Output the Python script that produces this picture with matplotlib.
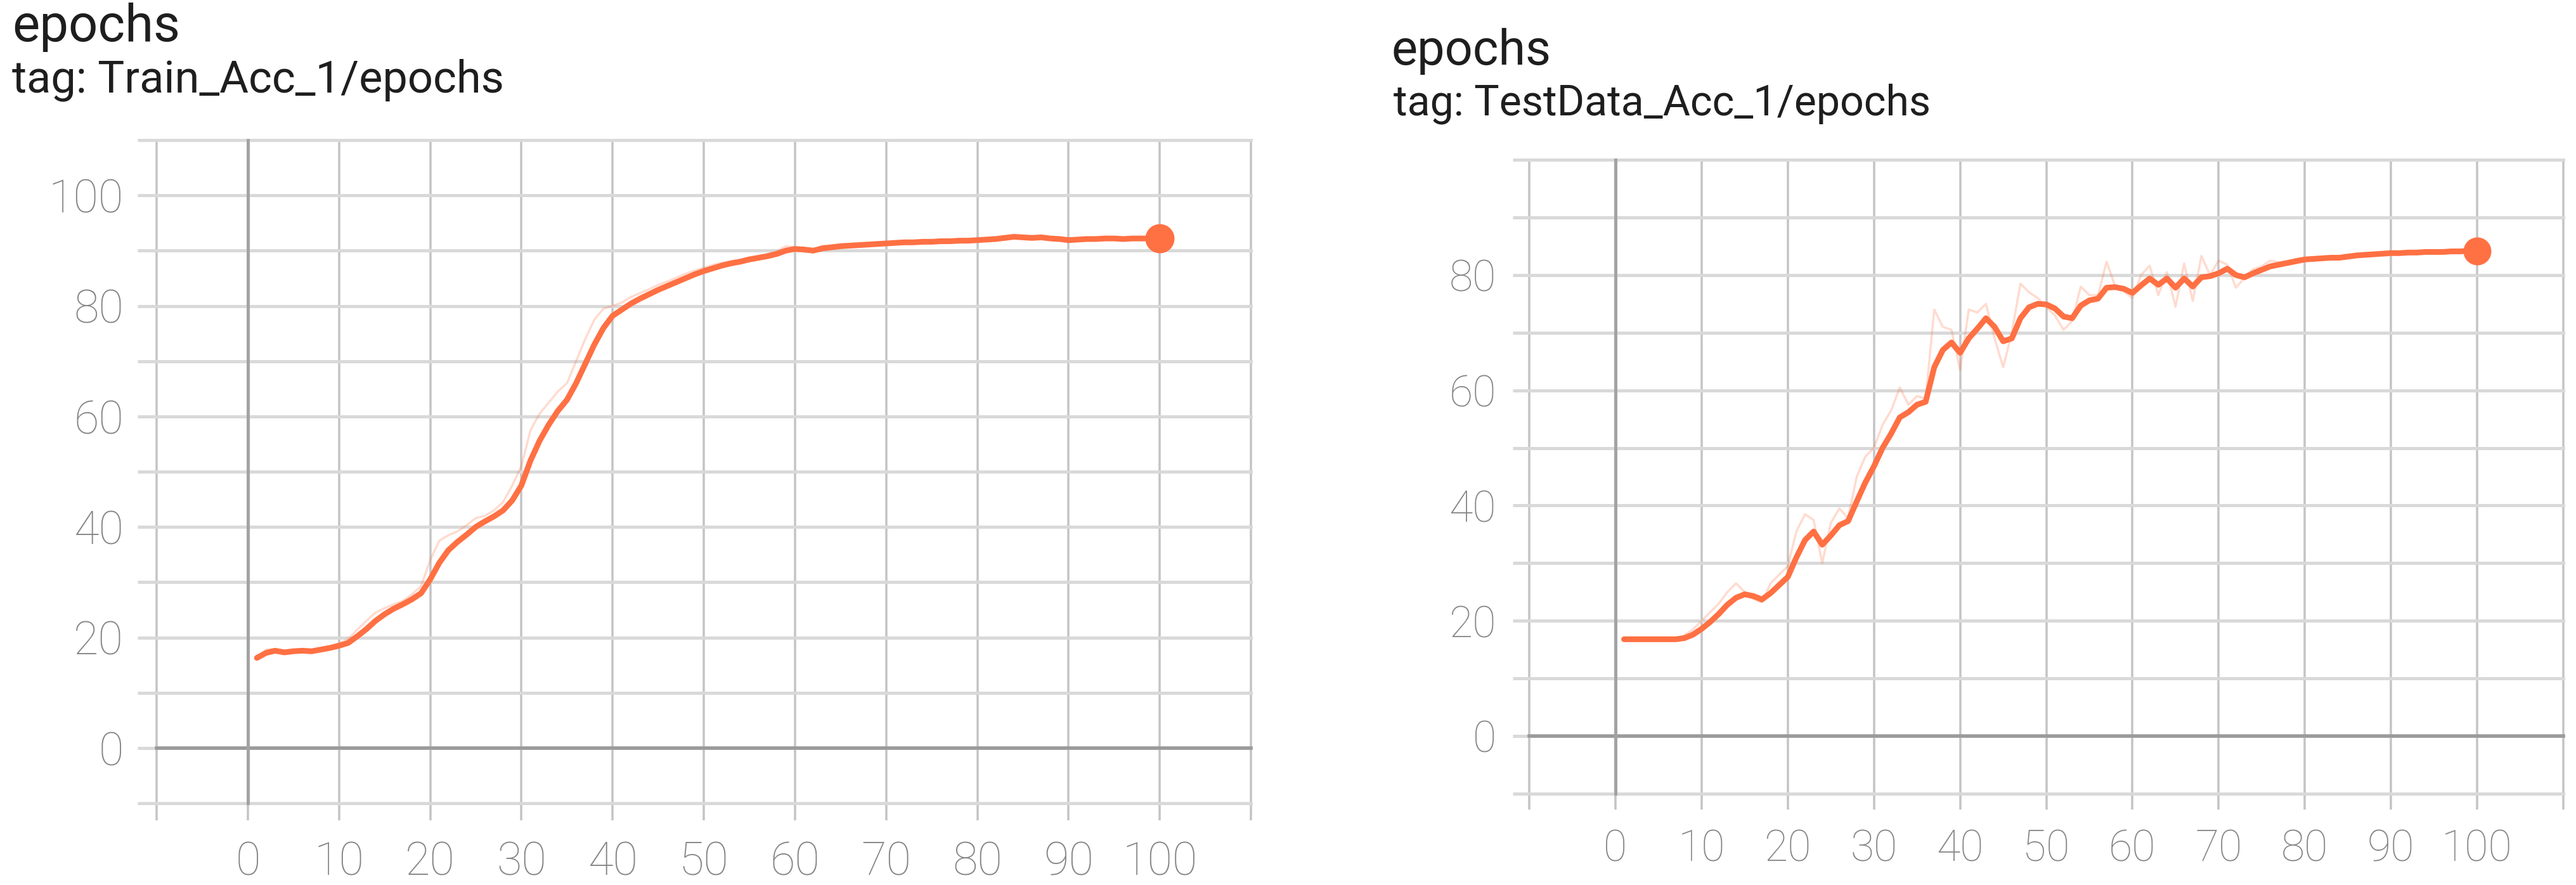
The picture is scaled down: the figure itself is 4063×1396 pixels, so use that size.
import matplotlib
matplotlib.use("Agg")
import matplotlib.pyplot as plt

# ---------------- data ----------------
epochs = list(range(1, 101))

train_smoothed = [
    16.3, 17.2, 17.6, 17.3, 17.5, 17.6, 17.5, 17.8, 18.1, 18.5,
    19.0, 20.2, 21.5, 23.0, 24.2, 25.2, 26.0, 26.9, 28.0, 30.5,
    33.5, 35.8, 37.3, 38.6, 40.0, 41.0, 41.9, 43.0, 44.8, 47.5,
    52.0, 55.6, 58.5, 61.0, 63.0, 66.0, 69.5, 73.0, 76.0, 78.2,
    79.3, 80.4, 81.3, 82.1, 82.9, 83.6, 84.3, 85.0, 85.7, 86.3,
    86.8, 87.3, 87.7, 88.0, 88.4, 88.7, 89.0, 89.4, 90.0, 90.3,
    90.2, 90.0, 90.4, 90.6, 90.8, 90.9, 91.0, 91.1, 91.2, 91.3,
    91.4, 91.5, 91.5, 91.6, 91.6, 91.7, 91.7, 91.8, 91.8, 91.9,
    92.0, 92.1, 92.3, 92.5, 92.4, 92.3, 92.4, 92.2, 92.1, 91.9,
    92.0, 92.1, 92.1, 92.2, 92.2, 92.1, 92.2, 92.2, 92.2, 92.2,
]
train_raw = [
    16.3, 17.8, 17.9, 17.1, 17.7, 17.7, 17.4, 18.1, 18.4, 18.9,
    19.7, 21.4, 23.0, 24.5, 25.3, 26.0, 26.6, 27.8, 29.3, 34.0,
    37.5, 38.5, 39.2, 40.3, 41.6, 42.0, 43.0, 44.5, 47.5, 51.0,
    57.5, 60.5, 62.5, 64.5, 66.0, 70.0, 74.0, 77.5, 79.5, 80.0,
    80.6, 81.6, 82.3, 83.0, 83.8, 84.4, 85.1, 85.8, 86.4, 86.9,
    87.4, 87.8, 88.1, 88.3, 88.8, 89.0, 89.4, 89.9, 90.8, 90.6,
    89.8, 89.9, 90.9, 90.9, 91.1, 90.8, 91.2, 91.2, 91.4, 91.3,
    91.6, 91.5, 91.6, 91.7, 91.5, 91.8, 91.8, 91.9, 91.7, 92.1,
    92.2, 92.3, 92.6, 92.6, 92.2, 92.2, 92.6, 92.0, 92.0, 91.7,
    92.2, 92.2, 92.0, 92.4, 92.2, 92.0, 92.3, 92.2, 92.3, 92.2,
]
test_smoothed = [
    16.8, 16.8, 16.8, 16.8, 16.8, 16.8, 16.8, 17.0, 17.6, 18.6,
    19.8, 21.2, 22.8, 24.0, 24.6, 24.3, 23.7, 24.8, 26.2, 27.6,
    31.0, 34.0, 35.5, 33.2, 34.8, 36.6, 37.3, 40.7, 44.0, 46.8,
    50.0, 52.5, 55.3, 56.2, 57.5, 58.0, 64.0, 67.0, 68.3, 66.5,
    69.0, 70.7, 72.5, 71.0, 68.5, 69.0, 72.5, 74.4, 75.0, 74.9,
    74.2, 72.8, 72.5, 74.7, 75.6, 75.9, 77.8, 77.9, 77.6, 76.9,
    78.2, 79.4, 78.3, 79.4, 77.8, 79.4, 78.0, 79.6, 79.8, 80.3,
    81.1, 80.0, 79.6, 80.3, 80.9, 81.5, 81.8, 82.1, 82.4, 82.7,
    82.8, 82.9, 83.0, 83.0, 83.2, 83.4, 83.5, 83.6, 83.7, 83.8,
    83.8, 83.9, 83.9, 84.0, 84.0, 84.0, 84.1, 84.1, 84.2, 84.2,
]
test_raw = [
    16.8, 16.8, 16.8, 16.8, 16.8, 16.8, 16.8, 17.5, 18.5, 20.0,
    21.5, 23.0, 25.0, 26.5, 25.0, 23.8, 23.2, 26.5, 28.0, 29.5,
    35.5, 38.5, 37.5, 30.0, 37.0, 39.5, 37.8, 45.0, 48.5, 50.0,
    54.0, 56.5, 60.5, 57.5, 59.0, 58.5, 74.0, 71.0, 70.5, 63.5,
    74.0, 73.5, 75.0, 69.0, 64.0, 70.0, 78.5, 77.0, 76.0, 74.5,
    73.0, 70.5, 72.0, 78.0, 76.5, 76.5, 82.3, 78.0, 77.2, 76.0,
    80.0, 81.6, 76.5, 80.5, 74.5, 82.0, 75.5, 83.3, 80.0, 82.5,
    81.8, 77.8, 79.5, 81.0, 81.5, 82.5, 82.2, 82.4, 82.8, 83.0,
    82.9, 83.0, 83.1, 83.0, 83.4, 83.6, 83.6, 83.7, 83.8, 83.9,
    83.8, 84.0, 83.9, 84.1, 84.0, 84.0, 84.2, 84.1, 84.3, 84.2,
]

x_ticks = list(range(-10, 111, 10))
x_tick_labels = ["", "0", "10", "20", "30", "40", "50", "60", "70", "80", "90", "100", ""]
train_y_ticks = list(range(-10, 111, 10))
train_y_tick_labels = ["", "0", "", "20", "", "40", "", "60", "", "80", "", "100", ""]
test_y_ticks = list(range(-10, 101, 10))
test_y_tick_labels = ["", "0", "", "20", "", "40", "", "60", "", "80", "", ""]

titles = ["epochs", "epochs"]
tags = ["tag: Train_Acc_1/epochs", "tag: TestData_Acc_1/epochs"]

# ---------------- style ----------------
W, H, DPI = 4063, 1396, 100
PT = 72.0 / DPI  # points per pixel
ORANGE = "#ff7043"
HGRID = "#d9d9d9"
VGRID = "#c4c4c4"
ZERO = "#9a9a9a"
TICKTXT = "#858585"
TITLE = "#1e1e1e"
FAM = ["Roboto", "DejaVu Sans"]

fig = plt.figure(figsize=(W / DPI, H / DPI), dpi=DPI, facecolor="white")


def px_rect(x0, x1, ytop, ybot):
    return [x0 / W, 1 - ybot / H, (x1 - x0) / W, (ybot - ytop) / H]


panels = [
    dict(rect=px_rect(247, 1973, 221, 1267), ylim=(-10, 110),
         yticks=train_y_ticks, ylabels=train_y_tick_labels,
         smooth=train_smoothed, raw=train_raw,
         xtick_len=27, ytick_len=30, xpad=32, ypad=22, lab_px=72, dot_px=46,
         title_xy=(19, 65), title_w=265, tag_xy=(19, 145), tag_w=776),
    dict(rect=px_rect(2412, 4043, 252, 1252), ylim=(-10, 100),
         yticks=test_y_ticks, ylabels=test_y_tick_labels,
         smooth=test_smoothed, raw=test_raw,
         xtick_len=25, ytick_len=26, xpad=30, ypad=26, lab_px=68, dot_px=44,
         title_xy=(2195, 102), title_w=252, tag_xy=(2198, 182), tag_w=848),
]

texts_to_fit = []
for i, p in enumerate(panels):
    ax = fig.add_axes(p["rect"])
    ax.set_xlim(-10, 110)
    ax.set_ylim(*p["ylim"])
    for s in ax.spines.values():
        s.set_visible(False)
    ax.set_xticks(x_ticks)
    ax.set_xticklabels(x_tick_labels)
    ax.set_yticks(p["yticks"])
    ax.set_yticklabels(p["ylabels"])
    ax.tick_params(axis="x", length=p["xtick_len"] * PT, width=3.5 * PT, color=VGRID,
                   pad=p["xpad"] * PT, labelsize=p["lab_px"] * PT, labelcolor=TICKTXT)
    ax.tick_params(axis="y", length=p["ytick_len"] * PT, width=5 * PT, color=HGRID,
                   pad=p["ypad"] * PT, labelsize=p["lab_px"] * PT, labelcolor=TICKTXT)
    for lab in ax.get_xticklabels() + ax.get_yticklabels():
        lab.set_family(FAM)
        lab.set_fontweight("light")
    ax.xaxis.grid(True, color=VGRID, lw=3.5 * PT)
    ax.yaxis.grid(True, color=HGRID, lw=5 * PT)
    ax.set_axisbelow(True)
    for gl in ax.get_xgridlines() + ax.get_ygridlines():
        gl.set_clip_on(False)
    ax.axhline(0, color=ZERO, lw=5.5 * PT, zorder=1.5, clip_on=False)
    ax.axvline(0, color="#a3a3a3", lw=5 * PT, zorder=1.5, clip_on=False)

    ax.plot(epochs, p["raw"], color=ORANGE, alpha=0.25, lw=3.5 * PT, zorder=2)
    ax.plot(epochs, p["smooth"], color=ORANGE, lw=9 * PT, zorder=3,
            solid_joinstyle="round", solid_capstyle="round")
    ax.plot(epochs[-1], p["smooth"][-1], "o", color=ORANGE, ms=p["dot_px"] * PT,
            mec="none", zorder=4, clip_on=False)

    tx, ty = p["title_xy"]
    t1 = fig.text(tx / W, 1 - ty / H, titles[i], fontsize=55, family=FAM,
                  fontweight="normal", color=TITLE, ha="left", va="baseline")
    gx, gy = p["tag_xy"]
    t2 = fig.text(gx / W, 1 - gy / H, tags[i], fontsize=50, family=FAM,
                  color=TITLE, ha="left", va="baseline")
    texts_to_fit.append((t1, p["title_w"]))
    texts_to_fit.append((t2, p["tag_w"]))

# fit title widths to the measured widths in the reference
renderer = fig.canvas.get_renderer()
for t, target in texts_to_fit:
    w = t.get_window_extent(renderer).width
    t.set_fontsize(t.get_fontsize() * target / w)

fig.savefig("out.png", dpi=DPI, facecolor="white")
